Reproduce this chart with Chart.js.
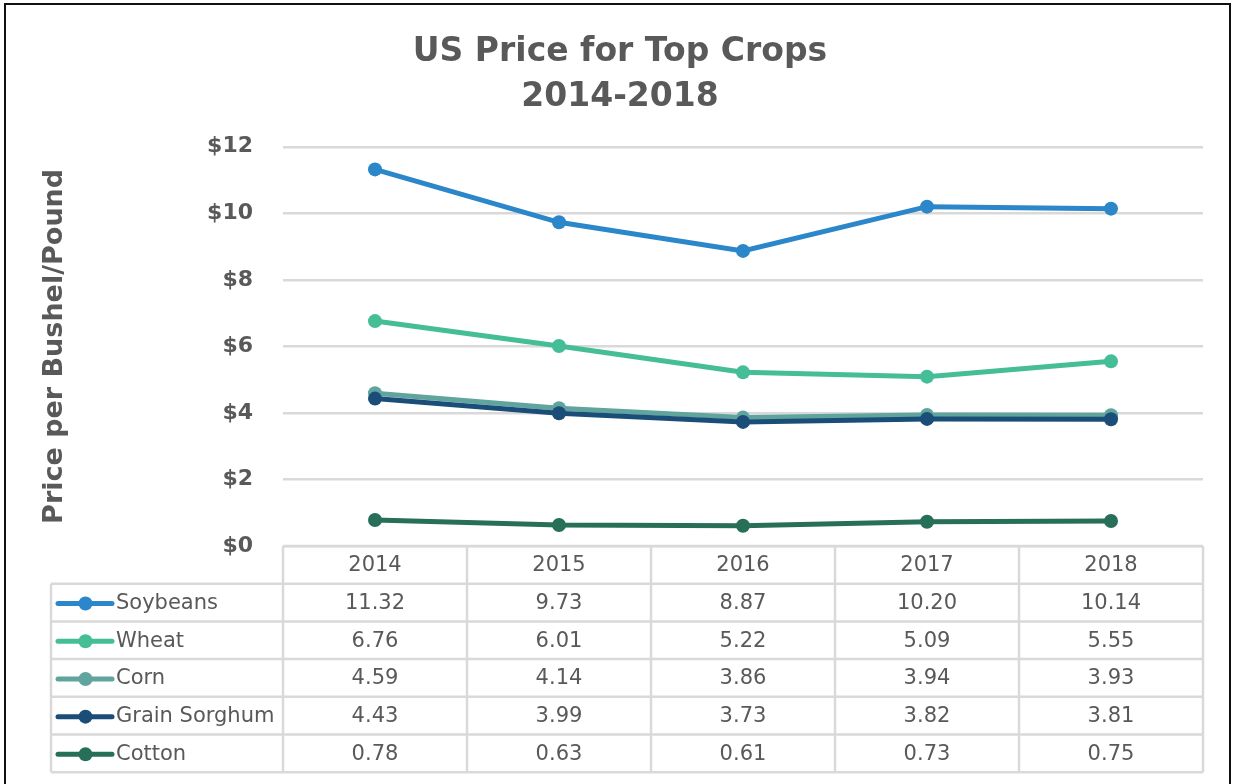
<!DOCTYPE html>
<html>
<head>
<meta charset="utf-8">
<script src="https://cdn.jsdelivr.net/npm/chart.js@4"></script>
<style>
  body { margin: 0; background: #fff; }
  canvas { display: block; }
</style>
</head>
<body>
<canvas id="cropChart" width="1233" height="784"></canvas>
<script>
// datos
const years = ['2014', '2015', '2016', '2017', '2018'];
const cropNames = ['Soybeans', 'Wheat', 'Corn', 'Grain Sorghum', 'Cotton'];
const soybeans = [11.32, 9.73, 8.87, 10.20, 10.14];
const wheat = [6.76, 6.01, 5.22, 5.09, 5.55];
const corn = [4.59, 4.14, 3.86, 3.94, 3.93];
const sorghum = [4.43, 3.99, 3.73, 3.82, 3.81];
const cotton = [0.78, 0.63, 0.61, 0.73, 0.75];
const yTicks = [0, 2, 4, 6, 8, 10, 12];

const colors = ['#2B86CA', '#45BD97', '#60A49E', '#1A4E78', '#276F58'];
const textGray = '#595959';
const gridGray = '#d9d9d9';

Chart.defaults.font.family = "'DejaVu Sans', sans-serif";
Chart.defaults.color = textGray;

const seriesValues = [soybeans, wheat, corn, sorghum, cotton];

// marco exterior y fondo blanco
const framePlugin = {
  id: 'frame',
  beforeDraw(chart) {
    const ctx = chart.ctx;
    ctx.save();
    ctx.fillStyle = '#fff';
    ctx.fillRect(0, 0, chart.width, chart.height);
    ctx.strokeStyle = '#111';
    ctx.lineWidth = 2;
    ctx.strokeRect(5, 4, 1225, 800);
    ctx.restore();
  }
};

// tabla de datos bajo el grafico
const tablePlugin = {
  id: 'dataTable',
  afterDraw(chart) {
    const ctx = chart.ctx;
    const x = chart.scales.x;
    const area = chart.chartArea;
    const colW = x.width / years.length;
    const top = area.bottom;
    const rowH = 37.7;
    const left = 51;
    const rows = cropNames.length;
    const bottom = top + rowH * (rows + 1);

    ctx.save();
    ctx.strokeStyle = gridGray;
    ctx.lineWidth = 2.5;
    ctx.beginPath();
    ctx.moveTo(x.left, top); ctx.lineTo(x.right, top);
    for (let r = 1; r <= rows + 1; r++) {
      const y = top + r * rowH;
      ctx.moveTo(left, y); ctx.lineTo(x.right, y);
    }
    ctx.moveTo(left, top + rowH); ctx.lineTo(left, bottom);
    for (let c = 0; c <= years.length; c++) {
      const xx = x.left + c * colW;
      ctx.moveTo(xx, top); ctx.lineTo(xx, bottom);
    }
    ctx.stroke();

    ctx.font = "21px 'DejaVu Sans'";
    ctx.fillStyle = textGray;
    ctx.textAlign = 'center';
    ctx.textBaseline = 'middle';
    years.forEach((yr, i) => {
      ctx.fillText(yr, x.getPixelForValue(i), top + rowH / 2 + 1);
    });

    cropNames.forEach((name, r) => {
      const cy = top + rowH * (r + 1.5) + 1;
      // clave de leyenda
      ctx.strokeStyle = colors[r];
      ctx.lineWidth = 5;
      ctx.lineCap = 'round';
      ctx.beginPath();
      ctx.moveTo(58, cy); ctx.lineTo(112, cy);
      ctx.stroke();
      ctx.fillStyle = colors[r];
      ctx.beginPath();
      ctx.arc(85.5, cy, 7, 0, Math.PI * 2);
      ctx.fill();

      ctx.fillStyle = textGray;
      ctx.textAlign = 'left';
      ctx.fillText(name, 116, cy);
      ctx.textAlign = 'center';
      seriesValues[r].forEach((v, i) => {
        ctx.fillText(v.toFixed(2), x.getPixelForValue(i), cy);
      });
    });
    ctx.restore();
  }
};

const ctx = document.getElementById('cropChart').getContext('2d');
new Chart(ctx, {
  type: 'line',
  data: {
    labels: years,
    datasets: cropNames.map((name, i) => ({
      label: name,
      data: seriesValues[i],
      borderColor: colors[i],
      backgroundColor: colors[i],
      borderWidth: 5,
      pointRadius: 7,
      pointBorderWidth: 0,
      pointBackgroundColor: colors[i],
      tension: 0,
      order: cropNames.length - i
    }))
  },
  options: {
    responsive: false,
    animation: false,
    devicePixelRatio: 1,
    layout: { padding: { left: 37, right: 30, top: 4, bottom: 238 } },
    plugins: {
      legend: { display: false },
      tooltip: { enabled: false },
      title: {
        display: true,
        text: ['US Price for Top Crops', '2014-2018'],
        color: textGray,
        font: { size: 33, weight: 'bold', lineHeight: 1.36 },
        padding: { top: 26, bottom: 27 }
      }
    },
    scales: {
      x: {
        display: false,
        offset: true
      },
      y: {
        min: 0,
        max: 12,
        afterBuildTicks: (scale) => { scale.ticks = yTicks.map(v => ({ value: v })); },
        afterFit: (scale) => { scale.width = 246; },
        border: { display: false },
        grid: { color: gridGray, lineWidth: 2.5, drawTicks: false },
        ticks: {
          padding: 30,
          color: textGray,
          font: { size: 22, weight: 'bold' },
          callback: (v) => '$' + v
        },
        title: {
          display: true,
          text: 'Price per Bushel/Pound',
          color: textGray,
          font: { size: 27, weight: 'bold' },
          padding: { top: 2 }
        }
      }
    }
  },
  plugins: [framePlugin, tablePlugin]
});
</script>
</body>
</html>
